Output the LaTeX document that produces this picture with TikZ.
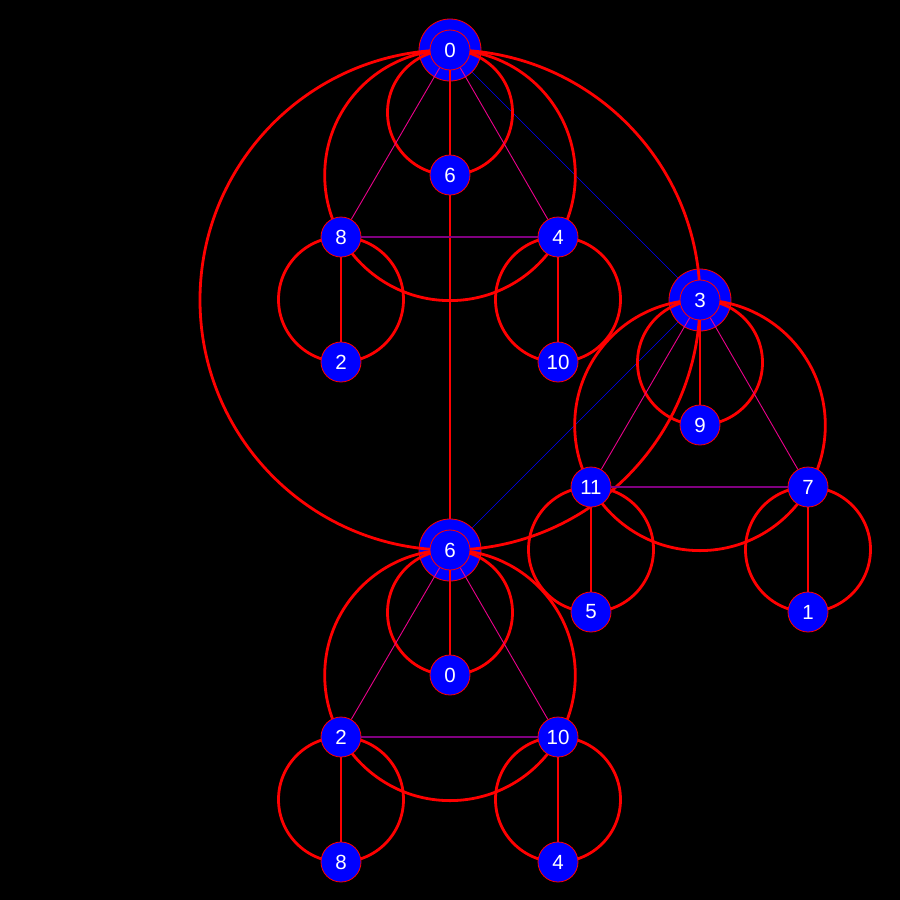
\documentclass[tikz,border=0pt]{standalone}
\usepackage{fontspec}
\setmainfont{Liberation Sans}
\pgfdeclarelayer{back}
\pgfdeclarelayer{disk}
\pgfdeclarelayer{edge}
\pgfsetlayers{back,disk,edge,main}
\definecolor{purp}{RGB}{128,0,128}
\begin{document}
\begin{tikzpicture}[x=1pt,y=-1pt,
  vtx/.style={circle,draw=red,line width=0.8pt,fill=blue,minimum size=40pt,inner sep=0pt,text=white,font=\fontsize{20.5}{24}\selectfont},
  hubdisk/.style={circle,draw=red,line width=0.8pt,fill=blue,minimum size=62pt,inner sep=0pt},
  ring/.style={draw=red,line width=2.8pt},
  tree/.style={draw=red,line width=1.6pt},
  side/.style={draw=magenta,line width=0.9pt},
  cross/.style={draw=purp,line width=1.5pt},
  link/.style={draw=blue,line width=0.7pt},
  thinlink/.style={draw=blue,line width=0.4pt}]
% nodes
\node[vtx] (n0) at (450,50) {0};
\node[vtx] (a6) at (450,175) {6};
\node[vtx] (a8) at (341,237) {8};
\node[vtx] (a4) at (558,237) {4};
\node[vtx] (a2) at (341,362) {2};
\node[vtx] (a10) at (558,362) {10};
\node[vtx] (n3) at (700,300) {3};
\node[vtx] (c9) at (700,425) {9};
\node[vtx] (c11) at (591,487) {11};
\node[vtx] (c7) at (808,487) {7};
\node[vtx] (c5) at (591,612) {5};
\node[vtx] (c1) at (808,612) {1};
\node[vtx] (n6) at (450,550) {6};
\node[vtx] (b0) at (450,675) {0};
\node[vtx] (b2) at (341,737) {2};
\node[vtx] (b10) at (558,737) {10};
\node[vtx] (b8) at (341,862) {8};
\node[vtx] (b4) at (558,862) {4};
% hub disks
\begin{pgfonlayer}{disk}
\node[hubdisk] (h0) at (n0) {};
\node[hubdisk] (h3) at (n3) {};
\node[hubdisk] (h6) at (n6) {};
\end{pgfonlayer}
% background and links under the disks
\begin{pgfonlayer}{back}
\fill[black] (0,0) rectangle (900,900);
\useasboundingbox (0,0) rectangle (900,900);
\draw[link] (h0) -- (h3);
\draw[thinlink] (h3) -- (h6);
\draw[tree] (a6) -- (h6);
\end{pgfonlayer}
% rings and edges
\begin{pgfonlayer}{edge}
\draw[ring] (450,112.5) circle[radius=62.5];
\draw[ring] (450,175.3) circle[radius=125.3];
\draw[ring] (450,300) circle[radius=250];
\draw[ring] (341,299.5) circle[radius=62.5];
\draw[ring] (558,299.5) circle[radius=62.5];
\draw[ring] (700,362.5) circle[radius=62.5];
\draw[ring] (700,425.3) circle[radius=125.3];
\draw[ring] (591,549.5) circle[radius=62.5];
\draw[ring] (808,549.5) circle[radius=62.5];
\draw[ring] (450,612.5) circle[radius=62.5];
\draw[ring] (450,675.3) circle[radius=125.3];
\draw[ring] (341,799.5) circle[radius=62.5];
\draw[ring] (558,799.5) circle[radius=62.5];
\draw[tree] (n0) -- (a6);
\draw[tree] (a8) -- (a2);
\draw[tree] (a4) -- (a10);
\draw[tree] (n3) -- (c9);
\draw[tree] (c11) -- (c5);
\draw[tree] (c7) -- (c1);
\draw[tree] (n6) -- (b0);
\draw[tree] (b2) -- (b8);
\draw[tree] (b10) -- (b4);
\draw[side] (n0) -- (a8);
\draw[side] (n0) -- (a4);
\draw[side] (n3) -- (c11);
\draw[side] (n3) -- (c7);
\draw[side] (n6) -- (b2);
\draw[side] (n6) -- (b10);
\draw[cross] (a8) -- (a4);
\draw[cross] (c11) -- (c7);
\draw[cross] (b2) -- (b10);
\end{pgfonlayer}
\end{tikzpicture}
\end{document}
